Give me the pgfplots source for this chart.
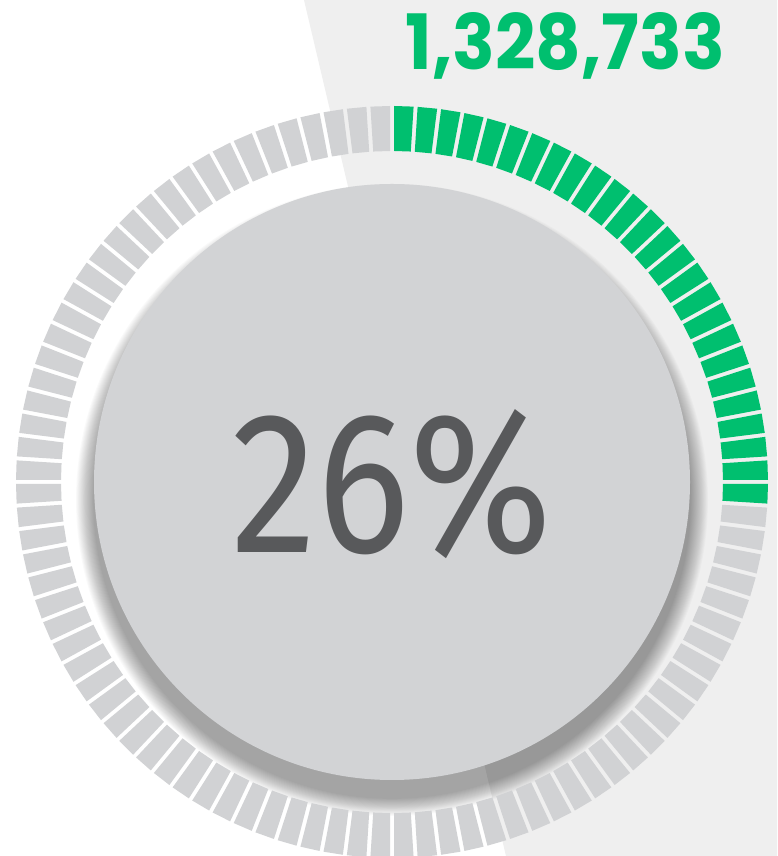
\documentclass[border=0pt]{standalone}
\usepackage{pgfplots}
\pgfplotsset{compat=1.18}
\usepackage{graphicx}
\usepackage{fontspec}
\setmainfont{Fira Sans}
\newfontfamily\lightfont{Fira Sans}
\newfontfamily\numfont{Poppins}
\definecolor{ggreen}{HTML}{00BF6F}
\definecolor{seggray}{HTML}{D1D2D4}
\definecolor{disc}{HTML}{D2D3D5}
\definecolor{bgray}{HTML}{EFEFEF}
\definecolor{txt}{HTML}{58595B}
% gauge data: value (percent) out of 100 segments
\newcommand\gaugevalue{26}
\begin{document}
\begin{tikzpicture}
\begin{axis}[
  width=777pt, height=856pt, scale only axis,
  xmin=-392, xmax=385, ymin=-374, ymax=482,
  hide axis, clip=true,
]
\fill[white] (axis cs:-392,-374) rectangle (axis cs:385,482);
\fill[bgray] (axis cs:-88,482) -- (axis cs:385,482) -- (axis cs:385,-374) -- (axis cs:114,-374) -- cycle;
% soft drop shadow of the disc
\pgfplotsinvokeforeach{1,...,20}{
  \fill[black, opacity=0.02] (axis cs:0,-18) circle[radius=298+#1*0.9];
}
% segments
\pgfplotsinvokeforeach{0,...,99}{
  \pgfmathsetmacro\bA{90-3.6*#1}
  \pgfmathsetmacro\bB{90-3.6*(#1+1)}
  \pgfmathsetmacro\xa{331*cos(\bA)+2*sin(\bA)}
  \pgfmathsetmacro\ya{331*sin(\bA)-2*cos(\bA)}
  \pgfmathsetmacro\xb{376*cos(\bA)+2*sin(\bA)}
  \pgfmathsetmacro\yb{376*sin(\bA)-2*cos(\bA)}
  \pgfmathsetmacro\xc{376*cos(\bB)-2*sin(\bB)}
  \pgfmathsetmacro\yc{376*sin(\bB)+2*cos(\bB)}
  \pgfmathsetmacro\xd{331*cos(\bB)-2*sin(\bB)}
  \pgfmathsetmacro\yd{331*sin(\bB)+2*cos(\bB)}
  \ifnum#1<\gaugevalue\relax \def\segcol{ggreen}\else\def\segcol{seggray}\fi
  \edef\doseg{\noexpand\addplot[fill=\segcol, draw=none] coordinates {(\xa,\ya) (\xb,\yb) (\xc,\yc) (\xd,\yd) (\xa,\ya)};}
  \doseg
}
\fill[disc] (axis cs:0,0) circle[radius=298];
\node[anchor=base, text=txt, inner sep=0pt] at (axis cs:0,-71) {\resizebox{320pt}{143pt}{\lightfont 26\%}};
\node[anchor=base, text=ggreen, inner sep=0pt] at (axis cs:173.5,412) {\resizebox{319pt}{57pt}{\numfont\bfseries 1,328,733}};
\end{axis}
\pgfresetboundingbox
\useasboundingbox (current axis.south west) rectangle (current axis.north east);
\end{tikzpicture}
\end{document}
